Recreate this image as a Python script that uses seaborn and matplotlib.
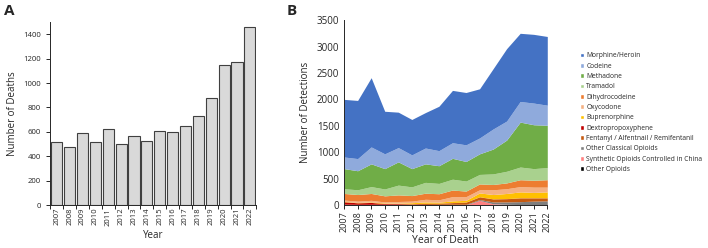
import matplotlib
matplotlib.use("Agg")
from matplotlib import pyplot as plt
from matplotlib.patches import Patch
import seaborn as sns
import pandas as pd

sns.set_style("ticks")
plt.rcParams['font.family'] = ['Open Sans', 'DejaVu Sans']

# Panel A: deaths per year
years = list(range(2007, 2023))
deaths = [520, 475, 590, 520, 625, 500, 570, 525, 610, 595, 650, 730, 875, 1145, 1170, 1460]

# Panel B: detections per year, stacked from bottom up
other_opioids = [3, 2, 2, 2, 2, 2, 2, 2, 3, 3, 5, 5, 5, 5, 5, 5]
synthetic_china = [0, 0, 0, 0, 0, 0, 0, 0, 0, 0, 85, 20, 10, 5, 5, 5]
other_classical = [10, 8, 8, 8, 8, 8, 10, 12, 12, 12, 15, 35, 45, 55, 65, 70]
fentanyl = [5, 5, 5, 8, 10, 10, 18, 20, 30, 40, 50, 55, 60, 70, 60, 55]
dextropropoxyphene = [45, 28, 35, 12, 10, 5, 5, 3, 3, 3, 3, 3, 3, 3, 3, 3]
buprenorphine = [7, 7, 10, 10, 8, 20, 25, 18, 32, 32, 72, 82, 97, 112, 102, 112]
oxycodone = [25, 25, 30, 20, 30, 30, 50, 45, 80, 70, 60, 90, 90, 100, 100, 90]
dihydrocodeine = [125, 125, 130, 115, 125, 105, 115, 115, 125, 105, 110, 100, 110, 130, 130, 140]
tramadol = [90, 90, 130, 130, 185, 165, 205, 195, 205, 190, 180, 200, 220, 240, 220, 230]
methadone = [380, 360, 430, 385, 440, 345, 350, 335, 395, 370, 390, 470, 590, 850, 830, 800]
codeine = [220, 230, 320, 280, 270, 260, 300, 285, 295, 315, 300, 380, 360, 390, 410, 380]
morphine = [1090, 1100, 1310, 805, 670, 670, 670, 840, 990, 990, 930, 1140, 1370, 1290, 1300, 1300]

series = [
    ("Other Opioids", other_opioids, "#000000"),
    ("Synthetic Opioids Controlled in China", synthetic_china, "#FF8080"),
    ("Other Classical Opioids", other_classical, "#7F7F7F"),
    ("Fentanyl / Alfentnail / Remifentanil", fentanyl, "#C55A11"),
    ("Dextropropoxyphene", dextropropoxyphene, "#C00000"),
    ("Buprenorphine", buprenorphine, "#FFC000"),
    ("Oxycodone", oxycodone, "#F4B183"),
    ("Dihydrocodeine", dihydrocodeine, "#ED7D31"),
    ("Tramadol", tramadol, "#A9D18E"),
    ("Methadone", methadone, "#70AD47"),
    ("Codeine", codeine, "#8FAADC"),
    ("Morphine/Heroin", morphine, "#4472C4"),
]

fig = plt.figure(figsize=(7.08, 2.48), dpi=100)
axA = fig.add_axes([0.071, 0.173, 0.291, 0.738])
axB = fig.add_axes([0.486, 0.173, 0.287, 0.746])

df = pd.DataFrame({"Year": [str(y) for y in years], "Deaths": deaths})
sns.barplot(data=df, x="Year", y="Deaths", ax=axA, color="#D9D9D9",
            edgecolor="#404040", linewidth=0.8, width=0.86, saturation=1)
axA.set_ylim(0, 1500)
axA.set_yticks(range(0, 1401, 200))
axA.set_xlim(-0.5, len(years) - 0.5)
axA.set_xticks([i - 0.5 for i in range(len(years) + 1)], minor=True)
axA.tick_params(axis="x", which="major", length=0, labelrotation=90, labelsize=5.5, pad=2)
axA.tick_params(axis="x", which="minor", length=3, width=0.7)
axA.tick_params(axis="y", labelsize=5.6, length=3, width=0.7)
axA.set_xlabel("Year", fontsize=7, labelpad=3)
axA.set_ylabel("Number of Deaths", fontsize=7)
sns.despine(ax=axA)
for s in axA.spines.values():
    s.set_linewidth(0.7)

axB.stackplot(years, *[v for _, v, _ in series], colors=[c for _, _, c in series], linewidth=0)
axB.set_xlim(2007, 2022)
axB.set_ylim(0, 3500)
axB.set_xticks(years)
axB.set_yticks(range(0, 3501, 500))
axB.tick_params(axis="x", labelrotation=90, labelsize=6.5, length=3, width=0.7, pad=1.5)
axB.tick_params(axis="y", labelsize=7, length=0)
axB.set_xlabel("Year of Death", fontsize=7.5, labelpad=2)
axB.set_ylabel("Number of Detections", fontsize=7)
sns.despine(ax=axB)
for s in axB.spines.values():
    s.set_linewidth(0.7)

handles = [Patch(facecolor=c, label=n) for n, _, c in reversed(series)]
fig.legend(handles=handles, loc="upper left", bbox_to_anchor=(0.815, 0.80),
           frameon=False, fontsize=4.8, handlelength=0.7, handleheight=0.7,
           handletextpad=0.3, labelspacing=0.5, borderaxespad=0)

fig.text(0.005, 0.985, "A", fontsize=11, fontweight="bold", va="top")
fig.text(0.405, 0.985, "B", fontsize=11, fontweight="bold", va="top")

fig.savefig("out.png", dpi=100)
